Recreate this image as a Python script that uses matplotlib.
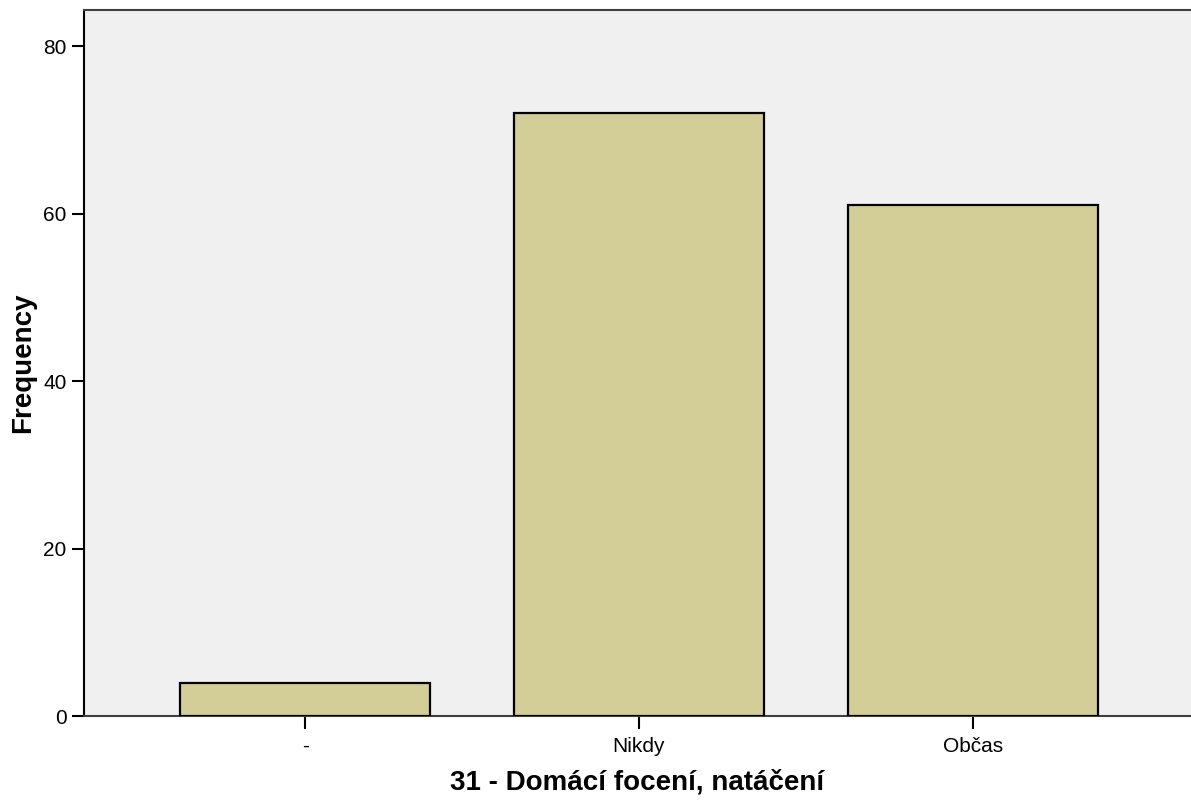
import matplotlib.pyplot as plt
import numpy as np

plt.rcParams['font.family'] = ['Liberation Sans', 'DejaVu Sans']

categories = ['-', 'Nikdy', 'Občas']
frequency = [4, 72, 61]
y_ticks = [0, 20, 40, 60, 80]

fig = plt.figure(figsize=(11.91, 8.02), dpi=100)
ax = fig.add_axes([0.0705, 0.1072, 0.9295, 0.8803])
ax.set_facecolor('#f0f0f0')

x = np.arange(len(categories))
ax.bar(x, frequency, width=0.75, color='#d3ce97', edgecolor='black', linewidth=1.6, zorder=3)

ax.set_xlim(-0.663, 2.654)
ax.set_ylim(0, 84.3)
ax.set_xticks(x)
ax.set_xticklabels(categories)
ax.set_yticks(y_ticks)

ax.tick_params(axis='both', direction='out', length=9, width=1.5, labelsize=15, color='black')
ax.tick_params(axis='x', pad=6)

ax.spines['right'].set_visible(False)
ax.spines['top'].set_color('#404040')
ax.spines['top'].set_linewidth(1.5)
ax.spines['left'].set_linewidth(1.5)
ax.spines['bottom'].set_linewidth(1.5)
ax.spines['bottom'].set_color('#404040')

ax.set_xlabel('31 - Domácí focení, natáčení', fontsize=20, fontweight='bold', labelpad=10)
ax.set_ylabel('Frequency', fontsize=20, fontweight='bold', labelpad=5)

fig.savefig('out.png', dpi=100)
